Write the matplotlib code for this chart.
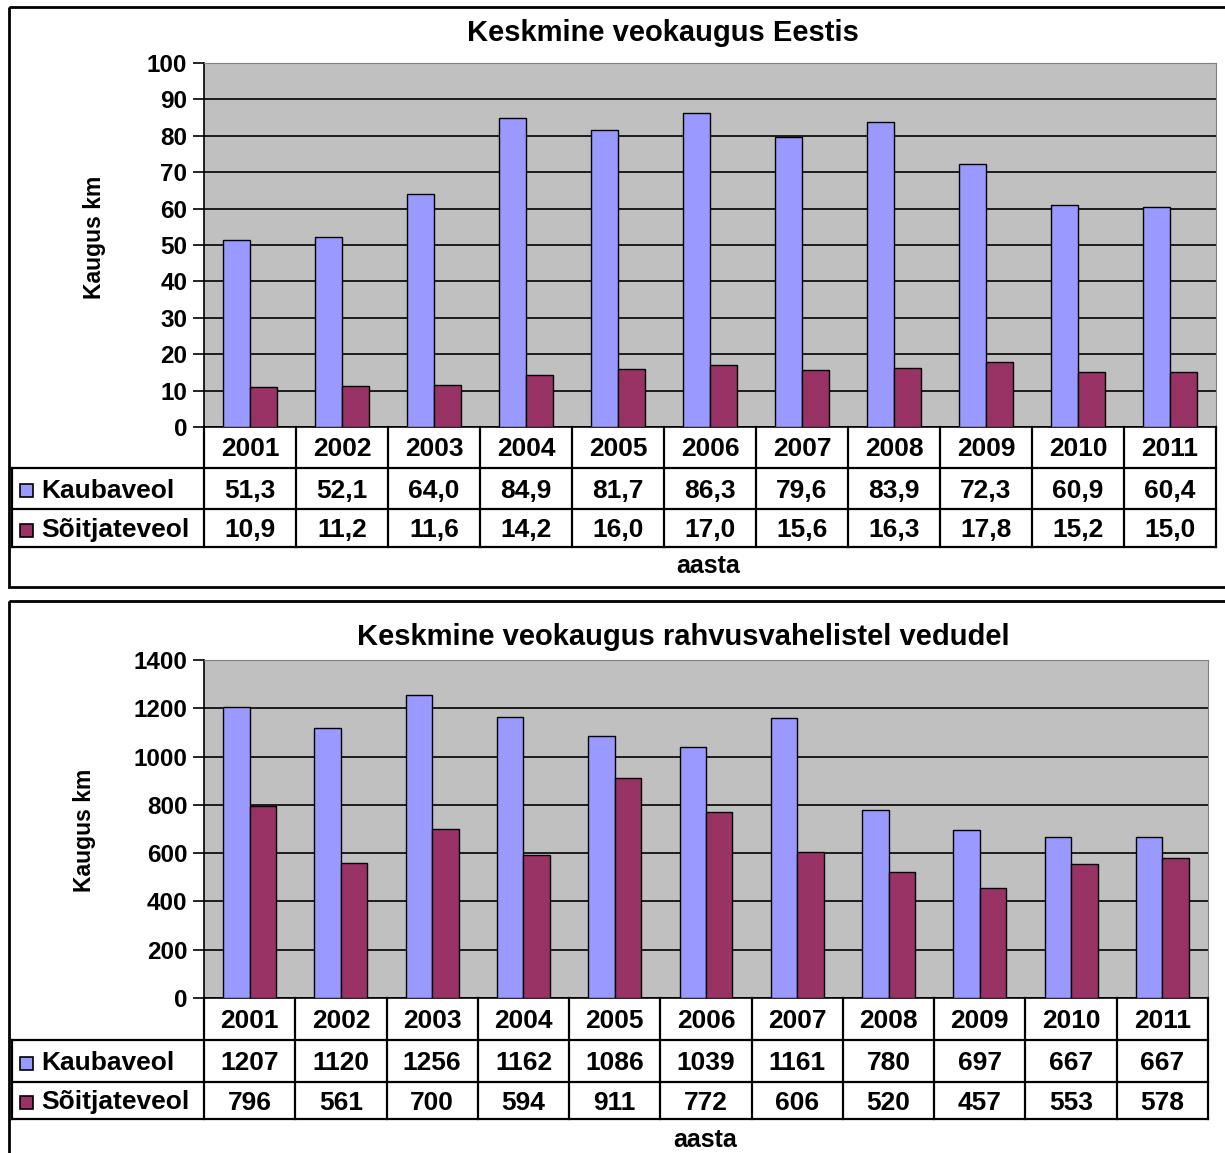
import matplotlib
matplotlib.use("Agg")
import matplotlib.pyplot as plt
from matplotlib.patches import Rectangle

plt.rcParams['font.family'] = ['Liberation Sans', 'DejaVu Sans']
plt.rcParams['font.weight'] = 'bold'

years = ['2001', '2002', '2003', '2004', '2005', '2006', '2007', '2008', '2009', '2010', '2011']
series_names = ['Kaubaveol', 'Sõitjateveol']

est_kauba = [51.3, 52.1, 64.0, 84.9, 81.7, 86.3, 79.6, 83.9, 72.3, 60.9, 60.4]
est_soit = [10.9, 11.2, 11.6, 14.2, 16.0, 17.0, 15.6, 16.3, 17.8, 15.2, 15.0]

int_kauba = [1207, 1120, 1256, 1162, 1086, 1039, 1161, 780, 697, 667, 667]
int_soit = [796, 561, 700, 594, 911, 772, 606, 520, 457, 553, 578]

title1 = 'Keskmine veokaugus Eestis'
title2 = 'Keskmine veokaugus rahvusvahelistel vedudel'
ylabel = 'Kaugus km'
xlabel = 'aasta'

colors = ['#9999FF', '#993366']
W, H = 1225, 1153
fig = plt.figure(figsize=(W / 100, H / 100), dpi=100)
fig.patch.set_facecolor('white')

ov = fig.add_axes([0, 0, 1, 1])
ov.set_xlim(0, W)
ov.set_ylim(H, 0)
ov.axis('off')
ov.set_zorder(5)

FS_TICK = 17.5
FS_TAB = 19
FS_TITLE = 21
FS_YLAB = 16.5
FS_XLAB = 18


def px_axes(l, t, r, b):
    return fig.add_axes([l / W, 1 - b / H, (r - l) / W, (b - t) / H])


def fmt_est(v):
    return f'{v:.1f}'.replace('.', ',')


def fmt_int(v):
    return f'{v:d}'


def panel(frame, plot, rows, vals1, vals2, ymax, ystep, title, title_xy, ylab_xy, xlab_xy, fmt):
    fl, ft, fr, fb = frame
    ov.add_patch(Rectangle((fl, ft), fr - fl, fb - ft, fill=False, lw=2.0, ec='black'))
    l, t, r, b = plot
    ax = px_axes(l, t, r, b)
    ax.set_facecolor('#C0C0C0')
    n = len(years)
    x = list(range(n))
    bw = 0.29
    ax.bar([i - bw / 2 for i in x], vals1, width=bw, color=colors[0], edgecolor='black', lw=1.0, zorder=3)
    ax.bar([i + bw / 2 for i in x], vals2, width=bw, color=colors[1], edgecolor='black', lw=1.0, zorder=3)
    ax.set_xlim(-0.5, n - 0.5)
    ax.set_ylim(0, ymax)
    ax.set_yticks(range(0, ymax + 1, ystep))
    ax.yaxis.grid(True, color='black', lw=1.2, zorder=1)
    ax.set_axisbelow(True)
    ax.set_xticks([])
    ax.tick_params(axis='y', length=8, width=1.2, labelsize=FS_TICK, pad=4)
    for lab in ax.get_yticklabels():
        lab.set_fontweight('bold')
    ax.spines['left'].set_linewidth(1.2)
    ax.spines['bottom'].set_linewidth(1.2)
    ax.spines['right'].set_color('#808080')
    ax.spines['top'].set_color('#808080')

    ov.text(title_xy[0], title_xy[1], title, ha='center', va='center', fontsize=FS_TITLE, fontweight='bold')
    ov.text(ylab_xy[0], ylab_xy[1], ylabel, ha='center', va='center', rotation=90, fontsize=FS_YLAB, fontweight='bold')
    ov.text(xlab_xy[0], xlab_xy[1], xlabel, ha='center', va='center', fontsize=FS_XLAB, fontweight='bold')

    y0, y1, y2, y3 = rows
    tl = 12
    cw = (r - l) / n
    lw = 1.6
    ov.plot([tl, r], [y1, y1], color='black', lw=lw)
    ov.plot([tl, r], [y2, y2], color='black', lw=lw)
    ov.plot([tl, r], [y3, y3], color='black', lw=lw)
    ov.plot([tl, tl], [y1, y3], color='black', lw=lw)
    for i in range(n + 1):
        ov.plot([l + i * cw, l + i * cw], [y0, y3], color='black', lw=lw)
    d = 2
    for i in range(n):
        cx = l + (i + 0.5) * cw
        ov.text(cx, (y0 + y1) / 2 + d, years[i], ha='center', va='center', fontsize=FS_TAB, fontweight='bold')
        ov.text(cx, (y1 + y2) / 2 + d, fmt(vals1[i]), ha='center', va='center', fontsize=FS_TAB, fontweight='bold')
        ov.text(cx, (y2 + y3) / 2 + d, fmt(vals2[i]), ha='center', va='center', fontsize=FS_TAB, fontweight='bold')
    for k, (ya, yb) in enumerate([(y1, y2), (y2, y3)]):
        ym = (ya + yb) / 2 + d
        ov.add_patch(Rectangle((19.5, ym - 6.5), 13, 13, fc=colors[k], ec='black', lw=1.2))
        ov.text(41, ym, series_names[k], ha='left', va='center', fontsize=FS_TAB, fontweight='bold')


panel((9, 7, 1240, 587), (204, 63, 1216, 427), (427, 468, 509, 547),
      est_kauba, est_soit, 100, 10, title1, (663, 33), (95, 237), (708, 566), fmt_est)
panel((9, 601, 1240, 1170), (204, 660, 1208, 998), (998, 1040, 1082, 1119),
      int_kauba, int_soit, 1400, 200, title2, (683, 637), (85, 830), (705, 1140), fmt_int)

fig.savefig('out.png', dpi=100)
